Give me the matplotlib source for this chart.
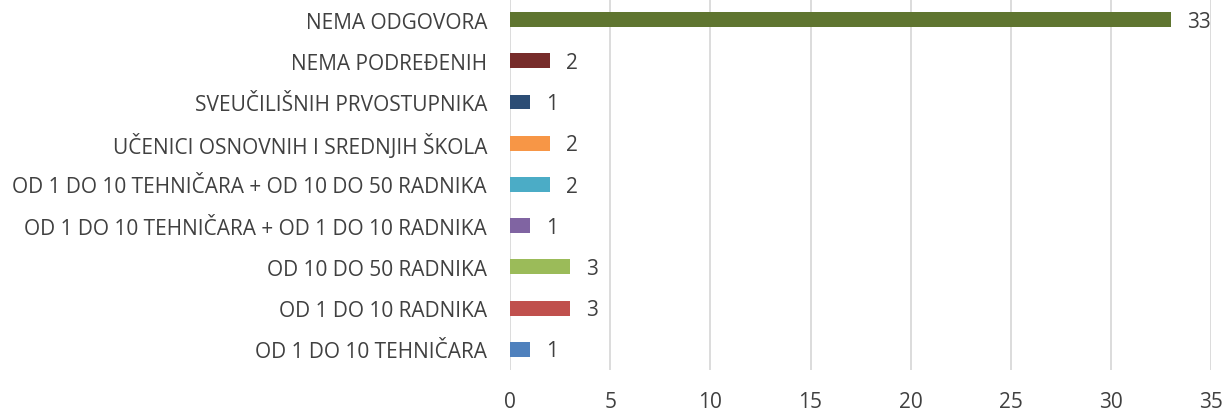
import matplotlib.pyplot as plt

categories = [
    "OD 1 DO 10 TEHNIČARA",
    "OD 1 DO 10 RADNIKA",
    "OD 10 DO 50 RADNIKA",
    "OD 1 DO 10 TEHNIČARA + OD 1 DO 10 RADNIKA",
    "OD 1 DO 10 TEHNIČARA + OD 10 DO 50 RADNIKA",
    "UČENICI OSNOVNIH I SREDNJIH ŠKOLA",
    "SVEUČILIŠNIH PRVOSTUPNIKA",
    "NEMA PODREĐENIH",
    "NEMA ODGOVORA",
]
values = [1, 3, 3, 1, 2, 2, 1, 2, 33]
colors = ["#4f81bd", "#c0504d", "#9bbb59", "#8064a2", "#4bacc6",
          "#f79646", "#2c4d75", "#772c2a", "#5f7530"]

plt.rcParams['font.family'] = ['Open Sans', 'DejaVu Sans']
text_color = "#404040"

fig = plt.figure(figsize=(12.29, 4.14), dpi=100)
ax = fig.add_axes([0.415, 0.104, 0.5705, 0.896])

y = list(range(len(categories)))
ax.barh(y, values, height=0.36, color=colors, zorder=3)
for yi, v in zip(y, values):
    ax.text(v + 0.8, yi - 0.04, str(v), va="center", ha="left",
            fontsize=15, color=text_color)

ax.set_xlim(0, 35)
ax.set_ylim(-0.5, len(categories) - 0.5)
ax.set_xticks(range(0, 36, 5))
ax.set_yticks(y)
ax.set_yticklabels(categories)
ax.tick_params(axis="both", length=0, labelsize=15, colors=text_color)
ax.tick_params(axis="y", pad=16.5)
ax.tick_params(axis="x", pad=15)
ax.grid(axis="x", color="#d9d9d9", linewidth=1.3, zorder=0)
for s in ax.spines.values():
    s.set_visible(False)

fig.savefig("out.png", dpi=100)
